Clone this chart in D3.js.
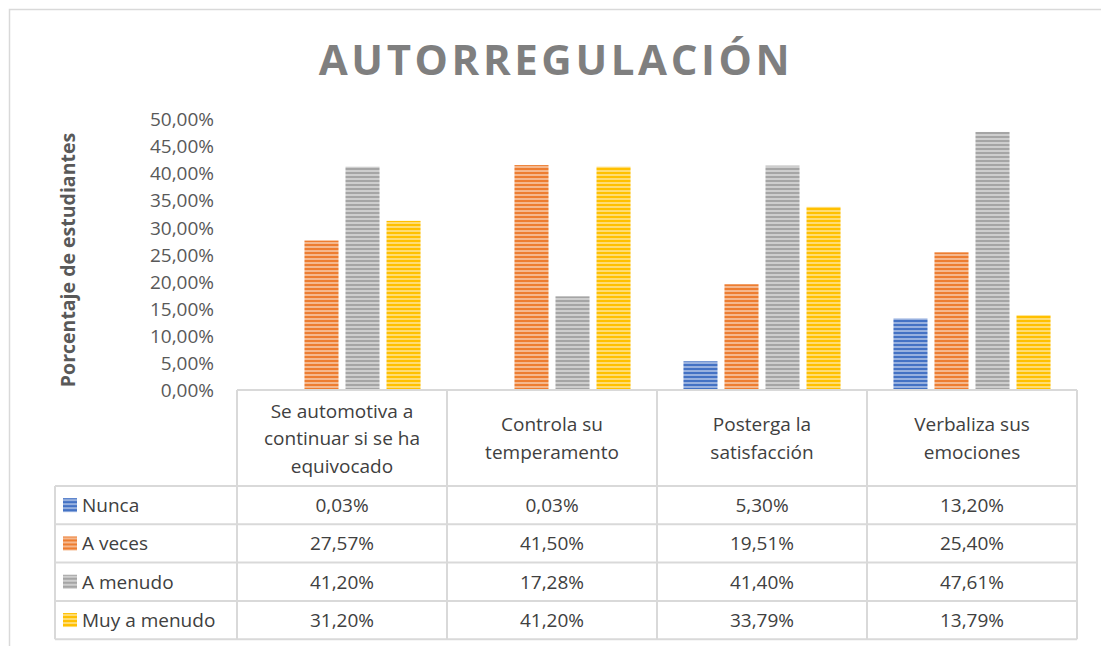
<!DOCTYPE html>
<html>
<head>
<meta charset="utf-8">
<script src="https://cdn.jsdelivr.net/npm/d3@7"></script>
<style>
  body { margin: 0; background: #fff; }
  svg text { font-family: "Open Sans", "Noto Sans", sans-serif; }
</style>
</head>
<body>
<div id="chart"></div>
<script>
'use strict';

var categories = [
    ['Se automotiva a', 'continuar si se ha', 'equivocado'],
    ['Controla su', 'temperamento'],
    ['Posterga la', 'satisfacción'],
    ['Verbaliza sus', 'emociones']
];
var seriesNames = ['Nunca', 'A veces', 'A menudo', 'Muy a menudo'];
var seriesColors = ['#4472C4', '#ED7D31', '#A5A5A5', '#FFC000'];
var nunca = [0.03, 0.03, 5.30, 13.20];
var aVeces = [27.57, 41.50, 19.51, 25.40];
var aMenudo = [41.20, 17.28, 41.40, 47.61];
var muyAMenudo = [31.20, 41.20, 33.79, 13.79];
var yTicks = [0, 5, 10, 15, 20, 25, 30, 35, 40, 45, 50];

var series = [nunca, aVeces, aMenudo, muyAMenudo];

var width = 1101, height = 646;
var fontSize = '19px';
var textColor = '#404040';

var svg = d3.select('#chart').append('svg')
    .attr('width', width)
    .attr('height', height);

// outer chart border
svg.append('rect')
    .attr('x', 9.5).attr('y', 9.5)
    .attr('width', 1100).attr('height', 700)
    .attr('fill', 'none')
    .attr('stroke', '#d9d9d9')
    .attr('stroke-width', 1.5);

// striped fills
var defs = svg.append('defs');
seriesColors.forEach(function (c, i) {
    var p = defs.append('pattern')
        .attr('id', 'stripe-' + i)
        .attr('patternUnits', 'userSpaceOnUse')
        .attr('width', 8).attr('height', 4);
    p.append('rect').attr('width', 8).attr('height', 4)
        .attr('fill', d3.interpolateRgb(c, '#fff')(0.45));
    p.append('rect').attr('width', 8).attr('height', 2)
        .attr('fill', c);
});

// title
svg.append('text')
    .attr('x', 556).attr('y', 75)
    .attr('text-anchor', 'middle')
    .attr('fill', '#7f7f7f')
    .style('font-size', '42px')
    .style('font-weight', 'bold')
    .style('letter-spacing', '3.6px')
    .text('AUTORREGULACIÓN');

var plotLeft = 237, plotRight = 1077, plotTop = 119, plotBottom = 390;

var x0 = d3.scaleBand()
    .domain(d3.range(categories.length))
    .range([plotLeft, plotRight]);

var x1 = d3.scaleBand()
    .domain(d3.range(seriesNames.length))
    .range([0, x0.bandwidth()])
    .paddingInner(0.17)
    .paddingOuter(0.645);

var y = d3.scaleLinear()
    .domain([0, 50])
    .range([plotBottom, plotTop]);

var pct = function (d) { return d3.format('.2f')(d).replace('.', ',') + '%'; };

// y axis
var yAxis = d3.axisLeft(y)
    .tickValues(yTicks)
    .tickSize(0)
    .tickPadding(0)
    .tickFormat(pct);

var yG = svg.append('g')
    .attr('transform', 'translate(214,0)')
    .call(yAxis);
yG.select('.domain').remove();
yG.selectAll('text')
    .attr('fill', '#595959')
    .attr('dy', '0.35em')
    .style('font-size', fontSize);

// y axis title
svg.append('text')
    .attr('transform', 'translate(75,260) rotate(-90)')
    .attr('text-anchor', 'middle')
    .attr('fill', '#595959')
    .style('font-size', '19.5px')
    .style('font-weight', 'bold')
    .text('Porcentaje de estudiantes');

// bars
var groups = svg.append('g').selectAll('g')
    .data(categories)
    .enter().append('g')
    .attr('transform', function (d, i) { return 'translate(' + x0(i) + ',0)'; });

groups.selectAll('rect')
    .data(function (d, i) {
        return series.map(function (s, j) { return { s: j, v: s[i] }; });
    })
    .enter().append('rect')
    .attr('x', function (d) { return x1(d.s); })
    .attr('width', x1.bandwidth())
    .attr('y', function (d) { return y(d.v); })
    .attr('height', function (d) { return plotBottom - y(d.v); })
    .attr('fill', function (d) { return 'url(#stripe-' + d.s + ')'; });

// data table
var tableLeft = 55;
var headerBottom = 486;
var rowH = 38.3;
var rowY = d3.scaleBand()
    .domain(d3.range(seriesNames.length))
    .range([headerBottom, headerBottom + rowH * seriesNames.length]);
var tableBottom = headerBottom + rowH * seriesNames.length;

var grid = svg.append('g')
    .attr('stroke', '#d9d9d9')
    .attr('stroke-width', 2)
    .attr('fill', 'none');

// axis line across plot
grid.append('line')
    .attr('x1', plotLeft).attr('x2', plotRight)
    .attr('y1', plotBottom).attr('y2', plotBottom);

// horizontal lines of table
var hLines = [headerBottom].concat(d3.range(seriesNames.length).map(function (i) { return rowY(i) + rowY.bandwidth(); }));
grid.selectAll('line.h')
    .data(hLines)
    .enter().append('line')
    .attr('class', 'h')
    .attr('x1', tableLeft).attr('x2', plotRight)
    .attr('y1', function (d) { return d; })
    .attr('y2', function (d) { return d; });

// vertical lines
grid.append('line')
    .attr('x1', tableLeft).attr('x2', tableLeft)
    .attr('y1', headerBottom).attr('y2', tableBottom);
grid.selectAll('line.v')
    .data(d3.range(categories.length + 1))
    .enter().append('line')
    .attr('class', 'v')
    .attr('x1', function (i) { return i < categories.length ? x0(i) : plotRight; })
    .attr('x2', function (i) { return i < categories.length ? x0(i) : plotRight; })
    .attr('y1', plotBottom).attr('y2', tableBottom);

// category labels (wrapped lines, centred around baseline 445)
var catLabels = svg.append('g').selectAll('text')
    .data(categories)
    .enter().append('text')
    .attr('text-anchor', 'middle')
    .attr('fill', textColor)
    .style('font-size', fontSize)
    .attr('x', function (d, i) { return x0(i) + x0.bandwidth() / 2; })
    .attr('y', function (d) { return 445 - (d.length - 1) * 13.75; });

catLabels.selectAll('tspan')
    .data(function (d) { return d; })
    .enter().append('tspan')
    .attr('x', function () { return d3.select(this.parentNode).attr('x'); })
    .attr('dy', function (d, i) { return i === 0 ? 0 : 27.5; })
    .text(function (d) { return d; });

// legend keys + series names
var rows = svg.append('g').selectAll('g')
    .data(seriesNames)
    .enter().append('g')
    .attr('transform', function (d, i) { return 'translate(0,' + (rowY(i) + rowY.bandwidth() / 2) + ')'; });

rows.append('rect')
    .attr('x', 63).attr('y', -7)
    .attr('width', 14).attr('height', 14)
    .attr('fill', function (d, i) { return 'url(#stripe-' + i + ')'; });

rows.append('text')
    .attr('x', 82).attr('dy', '0.36em')
    .attr('fill', textColor)
    .style('font-size', fontSize)
    .text(function (d) { return d; });

rows.selectAll('text.val')
    .data(function (d, i) { return series[i]; })
    .enter().append('text')
    .attr('class', 'val')
    .attr('x', function (d, i) { return x0(i) + x0.bandwidth() / 2; })
    .attr('dy', '0.36em')
    .attr('text-anchor', 'middle')
    .attr('fill', textColor)
    .style('font-size', fontSize)
    .text(pct);
</script>
</body>
</html>
